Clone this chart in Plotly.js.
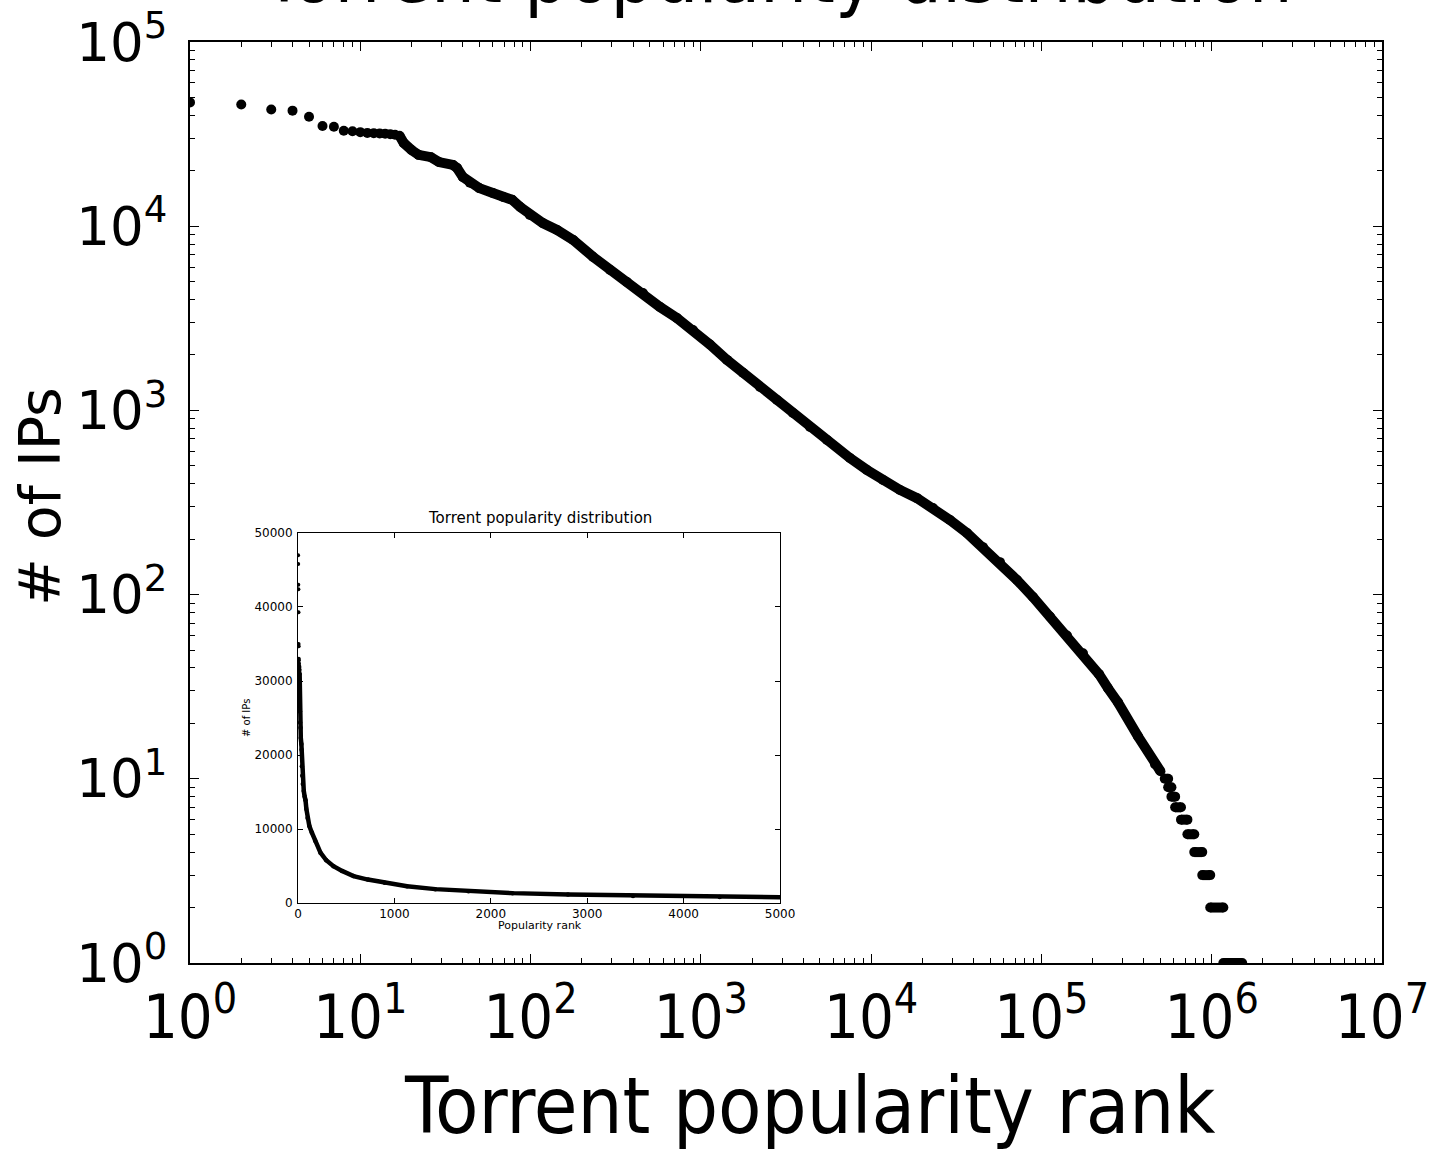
<!DOCTYPE html>
<html><head><meta charset="utf-8">
<script src="https://cdn.plot.ly/plotly-3.0.1.min.js"></script>
<style>html,body{margin:0;padding:0;background:#fff}#chart{width:1433px;height:1154px}</style>
</head><body><div id="chart"></div>
<script>
// Most popular torrents, shown as separate dots
const headRank = [1, 2, 3, 4, 5, 6, 7, 8, 9, 10, 11, 12, 13, 14, 15, 16];
const headIPs  = [47000, 45800, 43000, 42400, 39300, 35000, 34700, 33000, 32800, 32400, 32100, 32000, 31900, 31800, 31600, 31400];

// Dense body of the distribution (points merge into a thick band)
const bodyRank = [17, 18, 20, 22, 26, 29, 35, 37, 40, 44, 50, 60, 69, 78, 87, 99, 118, 143, 178, 233, 293, 368, 457, 576, 724, 899, 1131, 1424, 1768, 2225, 2800, 3475, 4374, 5505, 7511, 9454, 11740, 14770, 18590, 23080, 29040, 36550, 45380, 57100, 71860, 89200, 112200, 141300, 175400, 217800, 246000, 281500, 369000, 464400, 500000];
const bodyIPs  = [31000, 28300, 25900, 24400, 23700, 22300, 21500, 20700, 18500, 17200, 16100, 15150, 14400, 13900, 12700, 11500, 10400, 9540, 8420, 6810, 5780, 4980, 4340, 3640, 3170, 2730, 2280, 1880, 1600, 1340, 1140, 968, 812, 690, 551, 475, 419, 370, 334, 295, 254, 216, 181, 150, 120, 97, 76, 60, 48, 37, 31, 26, 17, 12, 11];

// Tail: integer counts held by a run of consecutive ranks
const tailCount     = [10, 9, 8, 7, 6, 5, 4, 3, 2, 1];
const tailRankFirst = [530000, 555000, 580000, 610000, 660000, 720000, 790000, 880000, 980000, 1170000];
const tailRankLast  = [555000, 580000, 610000, 660000, 720000, 790000, 880000, 980000, 1170000, 1510000];

// Axis ticks
const xExponents = [0, 1, 2, 3, 4, 5, 6, 7];
const yExponents = [0, 1, 2, 3, 4, 5];
const insetXTicks = [0, 1000, 2000, 3000, 4000, 5000];
const insetYTicks = [0, 10000, 20000, 30000, 40000, 50000];

const INSET_MAX_RANK = 5505;

const narrow = "'Liberation Sans Narrow', 'DejaVu Sans Condensed', Lato, sans-serif";
const dejavu = "'DejaVu Sans', sans-serif";

function decadeVals(exps) { return exps.map(e => Math.pow(10, e)); }
function decadeText(exps) { return exps.map(e => '10<sup>' + e + '</sup>'); }
function minorVals(exps) {
  const out = [];
  for (let i = 0; i < exps.length - 1; i++) {
    for (let m = 2; m <= 9; m++) out.push(m * Math.pow(10, exps[i]));
  }
  return out;
}

const tailX = [], tailY = [];
tailCount.forEach((c, i) => {
  tailX.push(tailRankFirst[i], tailRankLast[i], null);
  tailY.push(c, c, null);
});

const insetBodyRank = [], insetBodyIPs = [];
bodyRank.forEach((r, i) => { if (r <= INSET_MAX_RANK) { insetBodyRank.push(r); insetBodyIPs.push(bodyIPs[i]); } });

const black = '#000000';
const data = [
  { x: headRank, y: headIPs, type: 'scatter', mode: 'markers', xaxis: 'x', yaxis: 'y',
    marker: { color: black, size: 10 }, hoverinfo: 'skip' },
  { x: bodyRank, y: bodyIPs, type: 'scatter', mode: 'lines+markers', xaxis: 'x', yaxis: 'y',
    line: { color: black, width: 10 }, marker: { color: black, size: 10 }, hoverinfo: 'skip' },
  { x: tailX, y: tailY, type: 'scatter', mode: 'lines+markers', xaxis: 'x', yaxis: 'y', connectgaps: false,
    line: { color: black, width: 10 }, marker: { color: black, size: 10 }, hoverinfo: 'skip' },
  // inset (linear axes)
  { x: headRank, y: headIPs, type: 'scatter', mode: 'markers', xaxis: 'x2', yaxis: 'y2',
    marker: { color: black, size: 4 }, hoverinfo: 'skip' },
  { x: insetBodyRank, y: insetBodyIPs,
    type: 'scatter', mode: 'lines+markers', xaxis: 'x2', yaxis: 'y2',
    line: { color: black, width: 4.5 }, marker: { color: black, size: 4.5 }, hoverinfo: 'skip' }
];

const mainAxisCommon = {
  type: 'log', showgrid: false, zeroline: false, showline: true, linecolor: black, linewidth: 2,
  mirror: 'allticks', ticks: 'inside', ticklen: 9, tickwidth: 1, tickcolor: black, tickmode: 'array'
};

const layout = {
  width: 1433, height: 1154,
  margin: { l: 190, r: 51, t: 42, b: 191 },
  paper_bgcolor: '#ffffff', plot_bgcolor: '#ffffff',
  showlegend: false,
  xaxis: Object.assign({}, mainAxisCommon, {
    range: [0, 7], domain: [0, 1], anchor: 'y',
    tickvals: decadeVals(xExponents), ticktext: decadeText(xExponents),
    tickfont: { family: narrow, size: 61, color: black },
    ticklabelstandoff: 0,
    minor: { tickmode: 'array', tickvals: minorVals(xExponents), ticks: 'inside', ticklen: 5, tickwidth: 1, tickcolor: black, showgrid: false }
  }),
  yaxis: Object.assign({}, mainAxisCommon, {
    range: [0, 5], domain: [0, 1], anchor: 'x',
    tickvals: decadeVals(yExponents), ticktext: decadeText(yExponents),
    tickfont: { family: dejavu, size: 53, color: black },
    ticklabelstandoff: 10,
    minor: { tickmode: 'array', tickvals: minorVals(yExponents), ticks: 'inside', ticklen: 5, tickwidth: 1, tickcolor: black, showgrid: false }
  }),
  xaxis2: {
    domain: [0.0906, 0.4950], anchor: 'y2', range: [0, 5000],
    showgrid: false, zeroline: false, showline: true, linecolor: black, linewidth: 1, mirror: 'ticks',
    ticks: 'inside', ticklen: 5, tickcolor: black, tickmode: 'array', tickvals: insetXTicks,
    ticktext: insetXTicks.map(String),
    tickfont: { family: dejavu, size: 12, color: black }, ticklabelstandoff: 0
  },
  yaxis2: {
    domain: [0.0651, 0.4669], anchor: 'x2', range: [0, 50000],
    showgrid: false, zeroline: false, showline: true, linecolor: black, linewidth: 1, mirror: 'ticks',
    ticks: 'inside', ticklen: 5, tickcolor: black, tickmode: 'array', tickvals: insetYTicks,
    ticktext: insetYTicks.map(String),
    tickfont: { family: dejavu, size: 12, color: black }, ticklabelstandoff: 2
  },
  annotations: [
    { text: 'Torrent popularity distribution', xref: 'paper', yref: 'paper', x: 0.4925, y: 1.0217,
      xanchor: 'center', yanchor: 'bottom', showarrow: false, font: { family: narrow, size: 77, color: black } },
    { text: 'Torrent popularity rank', xref: 'paper', yref: 'paper', x: 0.520, y: -0.1555,
      xanchor: 'center', yanchor: 'middle', showarrow: false, font: { family: narrow, size: 79, color: black } },
    { text: '# of IPs', xref: 'paper', yref: 'paper', x: -0.1258, y: 0.506, textangle: -90,
      xanchor: 'center', yanchor: 'middle', showarrow: false, font: { family: dejavu, size: 57, color: black } },
    { text: 'Torrent popularity distribution', xref: 'paper', yref: 'paper', x: 0.2936, y: 0.4832,
      xanchor: 'center', yanchor: 'middle', showarrow: false, font: { family: dejavu, size: 15, color: black } },
    { text: 'Popularity rank', xref: 'paper', yref: 'paper', x: 0.2936, y: 0.0402,
      xanchor: 'center', yanchor: 'middle', showarrow: false, font: { family: dejavu, size: 11, color: black } },
    { text: '# of IPs', xref: 'paper', yref: 'paper', x: 0.047, y: 0.266, textangle: -90,
      xanchor: 'center', yanchor: 'middle', showarrow: false, font: { family: dejavu, size: 10, color: black } }
  ]
};

Plotly.newPlot('chart', data, layout, { staticPlot: true, displayModeBar: false });
</script>
</body></html>
